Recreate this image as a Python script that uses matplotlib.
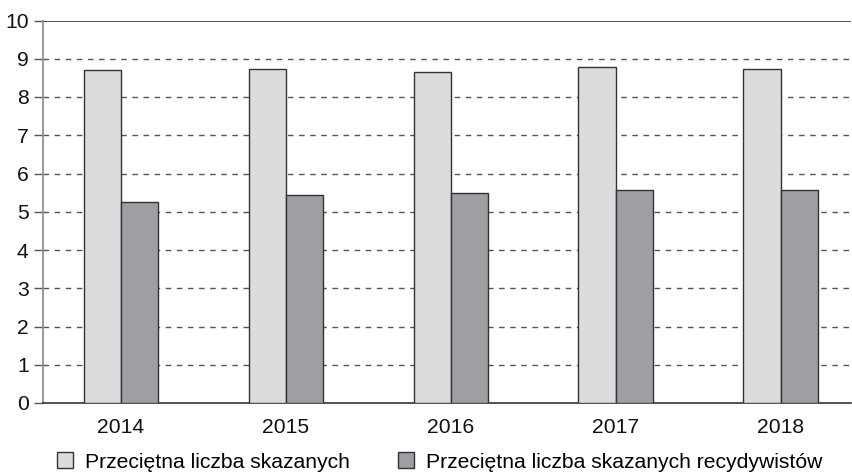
import numpy as np
import matplotlib.pyplot as plt

plt.rcParams['font.family'] = ['Liberation Sans', 'DejaVu Sans']

years = ['2014', '2015', '2016', '2017', '2018']
avg_convicted = [8.71, 8.73, 8.66, 8.78, 8.73]
avg_recidivists = [5.26, 5.44, 5.48, 5.58, 5.58]
labels = ['Przeciętna liczba skazanych', 'Przeciętna liczba skazanych recydywistów']

light = '#dcdcde'
dark = '#9e9fa3'
edge = '#333333'
fs = 15.2

fig = plt.figure(figsize=(8.53, 4.74), dpi=100)
ax = fig.add_axes([43.3 / 853, 1 - 403 / 474, (851 - 43.3) / 853, (403 - 20.5) / 474])

x = np.arange(len(years))
w = 0.226
b1 = ax.bar(x - w / 2, avg_convicted, w, color=light, edgecolor=edge, linewidth=1.0, zorder=3)
b2 = ax.bar(x + w / 2, avg_recidivists, w, color=dark, edgecolor=edge, linewidth=1.0, zorder=3)

ax.set_ylim(0, 10)
ax.set_xlim(-0.471, 4.427)
ax.set_yticks(range(0, 11))
ax.set_xticks(x)
ax.set_xticklabels(years)

for v in range(1, 10):
    ax.axhline(v, color='#555555', linestyle=(0, (4, 4)), linewidth=1.0, zorder=1)
ax.axhline(10, color='#333333', linewidth=1.2, zorder=1)

for s in ['top', 'right']:
    ax.spines[s].set_visible(False)
ax.spines['left'].set_color('#888888')
ax.spines['left'].set_linewidth(1.2)
ax.spines['bottom'].set_color('#333333')
ax.spines['bottom'].set_linewidth(1.2)

ax.tick_params(axis='y', length=6.5, width=1.0, color='#555555', pad=4, labelsize=fs, labelcolor='#111111')
ax.tick_params(axis='x', length=0, pad=10.5, labelsize=fs, labelcolor='#111111')

fig.legend([b1, b2], labels, loc='center left', bbox_to_anchor=(57 / 853, 1 - 462 / 474),
           ncol=2, frameon=False, fontsize=fs, handlelength=0.75, handleheight=0.75,
           handletextpad=0.6, columnspacing=2.25, borderpad=0, borderaxespad=0)

fig.savefig('out.png', dpi=100)
